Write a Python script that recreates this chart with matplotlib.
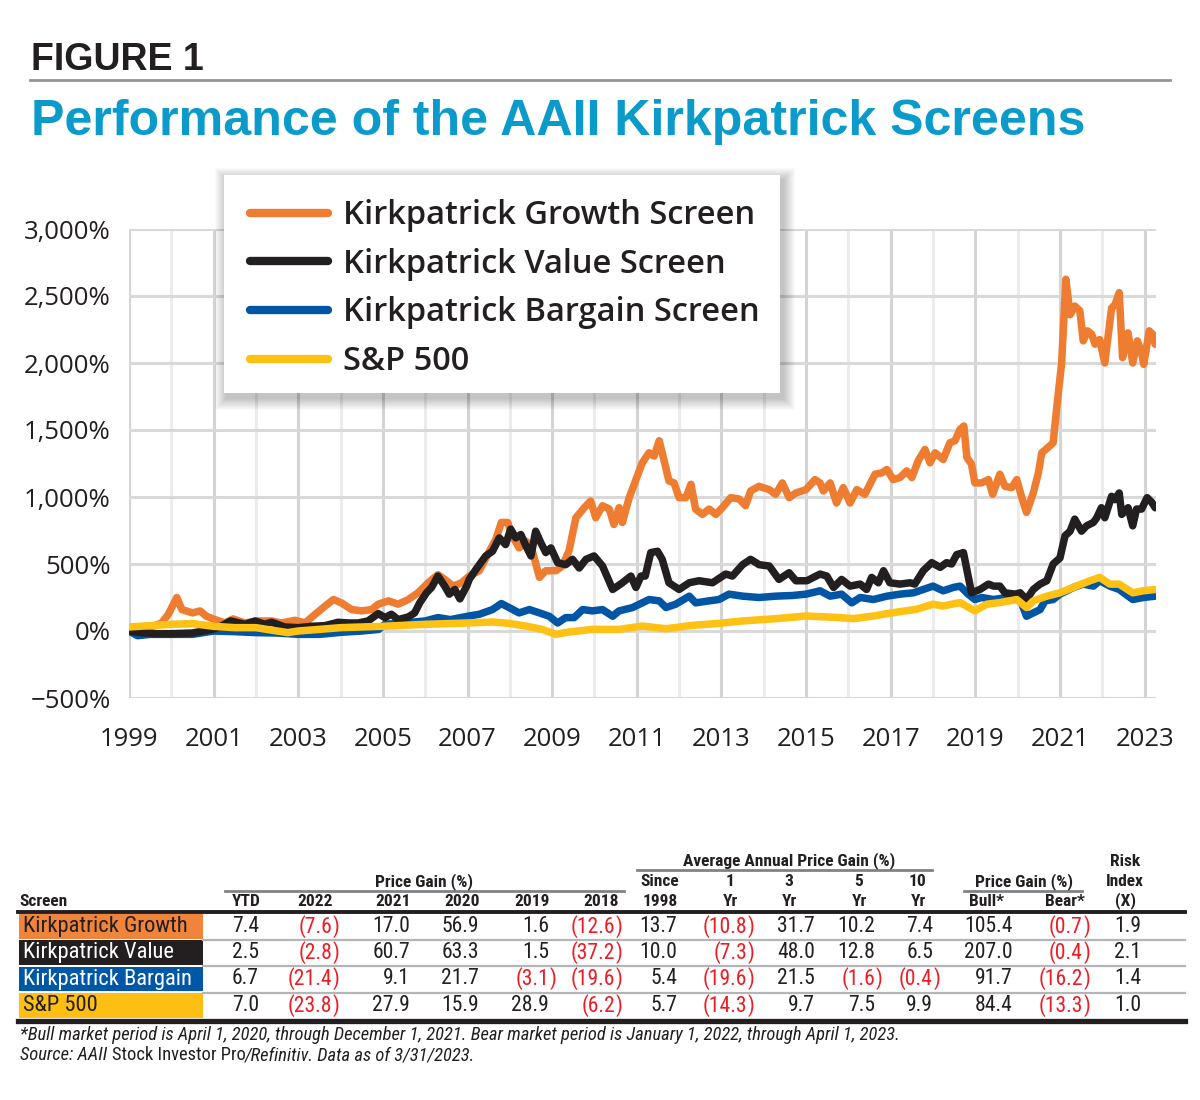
import matplotlib
matplotlib.use('Agg')
import matplotlib.pyplot as plt
from matplotlib.patches import Rectangle
from matplotlib.lines import Line2D
import matplotlib.ticker as mticker
from matplotlib import font_manager as fm

# ---------------- data ----------------
growth = [(1999.0, 0), (1999.4, 15), (1999.77, 60), (1999.93, 125), (2000.13, 250), (2000.25, 160),
          (2000.5, 135), (2000.68, 150), (2000.83, 110), (2001.03, 85), (2001.27, 60), (2001.46, 90),
          (2001.74, 60), (2002.05, 75), (2002.37, 75), (2002.6, 60), (2002.92, 80), (2003.16, 60),
          (2003.4, 125), (2003.63, 185), (2003.83, 235), (2004.02, 210), (2004.26, 160), (2004.5, 150),
          (2004.73, 160), (2004.89, 200), (2005.13, 225), (2005.36, 200), (2005.6, 235), (2005.83, 285),
          (2006.07, 360), (2006.3, 420), (2006.46, 385), (2006.66, 335), (2006.86, 360), (2007.04, 410),
          (2007.28, 450), (2007.5, 585), (2007.67, 685), (2007.8, 810), (2007.95, 810), (2008.06, 710),
          (2008.22, 620), (2008.38, 670), (2008.5, 635), (2008.7, 400), (2008.85, 450), (2009.09, 450),
          (2009.24, 485), (2009.4, 600), (2009.56, 845), (2009.76, 920), (2009.91, 970), (2010.03, 845),
          (2010.19, 935), (2010.35, 910), (2010.46, 795), (2010.58, 920), (2010.66, 810), (2010.82, 995),
          (2010.98, 1130), (2011.13, 1255), (2011.29, 1330), (2011.41, 1305), (2011.53, 1420),
          (2011.62, 1305), (2011.76, 1120), (2011.88, 1105), (2012.0, 995), (2012.16, 995),
          (2012.28, 1095), (2012.39, 910), (2012.55, 870), (2012.71, 910), (2012.87, 870), (2013.02, 920),
          (2013.22, 995), (2013.42, 985), (2013.57, 935), (2013.69, 1045), (2013.89, 1080),
          (2014.13, 1055), (2014.28, 1020), (2014.44, 1105), (2014.6, 995), (2014.76, 1030),
          (2015.0, 1055), (2015.21, 1130), (2015.33, 1105), (2015.41, 1045), (2015.57, 1105),
          (2015.72, 955), (2015.88, 1070), (2016.04, 955), (2016.2, 1055), (2016.39, 1020),
          (2016.63, 1170), (2016.79, 1180), (2016.91, 1205), (2017.06, 1130), (2017.22, 1145),
          (2017.38, 1195), (2017.5, 1145), (2017.65, 1270), (2017.81, 1355), (2017.93, 1255),
          (2018.05, 1330), (2018.24, 1280), (2018.4, 1405), (2018.52, 1420), (2018.64, 1505),
          (2018.73, 1530), (2018.8, 1295), (2018.91, 1245), (2018.99, 1105), (2019.15, 1105),
          (2019.31, 1130), (2019.41, 1020), (2019.58, 1170), (2019.7, 1080), (2019.86, 1070),
          (2019.98, 1130), (2020.09, 1005), (2020.21, 885), (2020.37, 1030), (2020.49, 1180),
          (2020.57, 1330), (2020.72, 1370), (2020.84, 1405), (2020.92, 1655), (2021.04, 2000),
          (2021.14, 2625), (2021.24, 2360), (2021.35, 2425), (2021.47, 2390), (2021.55, 2165),
          (2021.65, 2240), (2021.75, 2215), (2021.83, 2140), (2021.94, 2175), (2022.06, 2000),
          (2022.22, 2410), (2022.3, 2435), (2022.4, 2525), (2022.48, 2040), (2022.61, 2225),
          (2022.72, 2000), (2022.83, 2165), (2022.93, 2075), (2022.98, 1990), (2023.11, 2240),
          (2023.19, 2215), (2023.25, 2140)]

value = [(1999.0, 0), (1999.2, -10), (1999.6, -20), (2000.0, -20), (2000.5, -15), (2001.0, 15),
         (2001.2, 40), (2001.4, 75), (2001.74, 50), (2001.98, 75), (2002.2, 50), (2002.37, 65),
         (2002.68, 30), (2003.0, 25), (2003.3, 35), (2003.63, 40), (2003.94, 65), (2004.18, 60),
         (2004.42, 60), (2004.65, 75), (2004.89, 130), (2005.05, 100), (2005.2, 125), (2005.36, 85),
         (2005.6, 105), (2005.75, 135), (2005.87, 210), (2006.03, 285), (2006.15, 325), (2006.3, 410),
         (2006.46, 335), (2006.57, 275), (2006.7, 310), (2006.82, 240), (2006.98, 335), (2007.04, 385),
         (2007.2, 460), (2007.43, 560), (2007.59, 595), (2007.75, 695), (2007.9, 645), (2008.02, 760),
         (2008.14, 695), (2008.26, 720), (2008.38, 635), (2008.5, 560), (2008.61, 745), (2008.73, 660),
         (2008.85, 585), (2008.97, 620), (2009.13, 510), (2009.32, 495), (2009.48, 535), (2009.64, 470),
         (2009.8, 535), (2009.99, 560), (2010.19, 485), (2010.43, 310), (2010.66, 360), (2010.86, 410),
         (2010.98, 325), (2011.1, 410), (2011.2, 410), (2011.33, 585), (2011.49, 595), (2011.6, 535),
         (2011.76, 360), (2012.0, 310), (2012.24, 360), (2012.47, 375), (2012.79, 360), (2013.1, 425),
         (2013.26, 410), (2013.5, 495), (2013.69, 535), (2013.89, 495), (2014.13, 485), (2014.36, 385),
         (2014.6, 435), (2014.76, 375), (2015.02, 375), (2015.33, 425), (2015.49, 410), (2015.65, 325),
         (2015.84, 385), (2016.04, 335), (2016.28, 350), (2016.43, 310), (2016.55, 400), (2016.71, 360),
         (2016.83, 450), (2016.98, 360), (2017.22, 350), (2017.46, 360), (2017.57, 350), (2017.77, 450),
         (2017.97, 510), (2018.17, 475), (2018.32, 510), (2018.44, 500), (2018.56, 570), (2018.72, 585),
         (2018.8, 460), (2018.91, 285), (2019.11, 310), (2019.31, 350), (2019.43, 335), (2019.58, 335),
         (2019.7, 285), (2019.94, 275), (2020.06, 285), (2020.21, 235), (2020.37, 310), (2020.53, 350),
         (2020.69, 375), (2020.84, 500), (2021.0, 545), (2021.12, 710), (2021.24, 745), (2021.35, 835),
         (2021.51, 745), (2021.63, 785), (2021.79, 810), (2021.87, 845), (2021.98, 920), (2022.06, 845),
         (2022.22, 1005), (2022.3, 980), (2022.4, 1030), (2022.46, 870), (2022.61, 920), (2022.72, 785),
         (2022.81, 910), (2022.93, 910), (2023.06, 995), (2023.17, 960), (2023.25, 920)]

bargain = [(1999.0, 0), (1999.2, -35), (1999.5, -25), (2000.0, -25), (2000.5, -25), (2001.0, 0),
           (2001.5, -5), (2002.0, -12), (2002.5, -15), (2003.0, -25), (2003.5, -25), (2004.0, -10),
           (2004.5, 0), (2004.9, 12), (2005.05, 50), (2005.5, 60), (2006.0, 75), (2006.3, 100),
           (2006.6, 85), (2007.0, 110), (2007.28, 125), (2007.59, 160), (2007.8, 205), (2007.98, 175),
           (2008.22, 135), (2008.46, 160), (2008.7, 135), (2008.93, 110), (2009.13, 60), (2009.32, 100),
           (2009.52, 100), (2009.72, 160), (2009.95, 150), (2010.19, 160), (2010.43, 110), (2010.58, 150),
           (2010.9, 175), (2011.13, 210), (2011.29, 235), (2011.53, 225), (2011.69, 175), (2011.92, 200),
           (2012.24, 260), (2012.39, 210), (2012.71, 225), (2012.94, 235), (2013.18, 275), (2013.5, 260),
           (2013.89, 250), (2014.28, 260), (2014.68, 265), (2015.0, 275), (2015.33, 300), (2015.57, 260),
           (2015.84, 275), (2016.08, 210), (2016.28, 250), (2016.59, 235), (2016.91, 260), (2017.22, 275),
           (2017.54, 285), (2017.77, 310), (2018.0, 335), (2018.24, 300), (2018.48, 325), (2018.64, 335),
           (2018.83, 275), (2018.99, 235), (2019.15, 250), (2019.43, 235), (2019.74, 250), (2020.06, 235),
           (2020.21, 110), (2020.37, 135), (2020.53, 160), (2020.65, 225), (2020.84, 235), (2021.0, 275),
           (2021.32, 325), (2021.55, 350), (2021.79, 335), (2021.94, 375), (2022.18, 335), (2022.4, 310),
           (2022.72, 235), (2022.97, 250), (2023.25, 260)]

sp500 = [(1999.0, 30), (1999.5, 40), (2000.0, 50), (2000.5, 55), (2001.0, 35), (2001.5, 25),
         (2002.0, 25), (2002.5, 0), (2002.75, -12), (2003.0, 0), (2003.5, 12), (2004.0, 25),
         (2005.0, 35), (2006.0, 50), (2007.0, 60), (2007.59, 67), (2007.98, 57), (2008.38, 37),
         (2008.77, 12), (2009.09, -25), (2009.4, -7), (2009.95, 12), (2010.58, 12), (2011.13, 37),
         (2011.69, 17), (2012.31, 42), (2012.94, 57), (2013.5, 75), (2014.28, 92), (2015.0, 112),
         (2015.8, 100), (2016.12, 92), (2016.59, 112), (2017.06, 137), (2017.61, 162), (2018.0, 200),
         (2018.24, 187), (2018.64, 212), (2018.99, 150), (2019.27, 200), (2019.58, 212), (2019.98, 235),
         (2020.21, 175), (2020.37, 225), (2020.69, 260), (2021.0, 285), (2021.39, 335), (2021.71, 375),
         (2021.94, 400), (2022.18, 350), (2022.4, 350), (2022.72, 285), (2022.97, 300), (2023.25, 310)]

series_names = ['Kirkpatrick Growth Screen', 'Kirkpatrick Value Screen',
                'Kirkpatrick Bargain Screen', 'S&P 500']

x_ticks = list(range(1999, 2024, 2))
y_ticks = list(range(-500, 3001, 500))

# table data
row_labels = ['Kirkpatrick Growth', 'Kirkpatrick Value', 'Kirkpatrick Bargain', 'S&P 500']
ytd = [7.4, 2.5, 6.7, 7.0]
y2022 = [-7.6, -2.8, -21.4, -23.8]
y2021 = [17.0, 60.7, 9.1, 27.9]
y2020 = [56.9, 63.3, 21.7, 15.9]
y2019 = [1.6, 1.5, -3.1, 28.9]
y2018 = [-12.6, -37.2, -19.6, -6.2]
since1998 = [13.7, 10.0, 5.4, 5.7]
yr1 = [-10.8, -7.3, -19.6, -14.3]
yr3 = [31.7, 48.0, 21.5, 9.7]
yr5 = [10.2, 12.8, -1.6, 7.5]
yr10 = [7.4, 6.5, -0.4, 9.9]
bull = [105.4, 207.0, 91.7, 84.4]
bear = [-0.7, -0.4, -16.2, -13.3]
risk = [1.9, 2.1, 1.4, 1.0]

# ---------------- fonts ----------------
fam_names = {f.name for f in fm.fontManager.ttflist}
NARROW_FAM, NSCALE = ['Liberation Sans', 'DejaVu Sans'], 0.86
for cand in ['Roboto Condensed', 'Liberation Sans Narrow', 'Archivo Narrow', 'Open Sans Condensed']:
    if cand in fam_names:
        NARROW_FAM, NSCALE = [cand, 'DejaVu Sans'], 1.0
        break

W, H = 1200, 1100
fig = plt.figure(figsize=(12, 11), dpi=100)
fig.patch.set_facecolor('white')


def fx(px):
    return px / W


def fy(py):
    return 1 - py / H


ARIAL = ['Liberation Sans', 'DejaVu Sans']
SANS = ['Open Sans', 'DejaVu Sans']
DARK = '#231f20'
RED = '#ee1c25'
line_colors = ['#ee7d31', '#231f20', '#0055a5', '#ffc114']
cell_colors = ['#f0843a', '#231f20', '#0057a6', '#fdbf14']
cell_text = [DARK, 'white', 'white', DARK]

# header
fig.text(fx(31), fy(70), 'FIGURE 1', family=ARIAL, weight='bold', fontsize=27,
         color=DARK, va='baseline', ha='left')
fig.add_artist(Line2D([fx(30), fx(1170)], [fy(79.5), fy(79.5)], color='#939598', lw=2))
fig.text(fx(31), fy(135), 'Performance of the AAII Kirkpatrick Screens', family=ARIAL,
         weight='bold', fontsize=36.1, color='#0b9bcb', va='baseline', ha='left')

# chart
ax = fig.add_axes([fx(129), fy(698), (1156 - 129) / W, (698 - 229) / H])
ax.set_xlim(1999, 2023.27)
ax.set_ylim(-500, 3000)
for yr in range(1999, 2024):
    ax.axvline(yr, color='#d4d4d4' if yr % 2 == 1 else '#ececec', lw=2.2, zorder=0)
for v in y_ticks:
    ax.axhline(v, color='#d9d9d9', lw=2.2, zorder=0)
for s in ax.spines.values():
    s.set_visible(False)

order = [1, 3, 2, 4]
for data, col, name, z in zip([growth, value, bargain, sp500], line_colors, series_names, order):
    xs = [p[0] for p in data]
    ys = [p[1] for p in data]
    ax.plot(xs, ys, color=col, lw=5.4, solid_joinstyle='round', solid_capstyle='round',
            zorder=2 + z, label=name)

ax.set_xticks(x_ticks)
ax.set_yticks(y_ticks)
ax.yaxis.set_major_formatter(mticker.FuncFormatter(
    lambda v, p: ('\u2212' if v < 0 else '') + f'{abs(int(v)):,}%'))
ax.tick_params(length=0, labelsize=18.5, labelcolor=DARK)
ax.tick_params(axis='y', pad=13)
ax.tick_params(axis='x', pad=21)
for lab in ax.get_xticklabels() + ax.get_yticklabels():
    lab.set_family(SANS)

# legend box with soft shadow
bx0, by0, bx1, by1 = 224, 175, 780, 393
for i in range(12, 0, -1):
    fig.add_artist(Rectangle((fx(bx0 + 3 - i), fy(by1 + 5 + i)),
                             (bx1 - bx0 + 2 * i) / W, (by1 - by0 + 2 * i) / H,
                             transform=fig.transFigure, facecolor='black', edgecolor='none',
                             alpha=0.018, zorder=2))
fig.add_artist(Rectangle((fx(bx0), fy(by1)), (bx1 - bx0) / W, (by1 - by0) / H,
                         transform=fig.transFigure, facecolor='white', edgecolor='none', zorder=3))
handles = [Line2D([], [], color=c, lw=6, solid_capstyle='round') for c in line_colors]
leg = fig.legend(handles, series_names, loc='center left', bbox_to_anchor=(fx(250), fy(288.5)),
                 frameon=False, prop=dict(family=SANS, weight='semibold', size=23.5),
                 handlelength=2.4, handletextpad=0.45, labelspacing=0.48, borderpad=0,
                 borderaxespad=0)
leg.set_zorder(5)
for t in leg.get_texts():
    t.set_color(DARK)

# ---------------- table ----------------
HDR = dict(family=NARROW_FAM, weight='bold', fontsize=12.5 * NSCALE, color=DARK)
fig.text(fx(789), fy(861), 'Average Annual Price Gain (%)', ha='center', va='center', **HDR)
fig.text(fx(1125), fy(861), 'Risk', ha='center', va='center', **HDR)
fig.text(fx(424), fy(882), 'Price Gain (%)', ha='center', va='center', **HDR)
fig.text(fx(1024), fy(882), 'Price Gain (%)', ha='center', va='center', **HDR)
fig.text(fx(1125), fy(882), 'Index', ha='center', va='center', **HDR)
fig.text(fx(19), fy(901), 'Screen', ha='left', va='center', **HDR)
for x0, x1, y in [(637, 932, 869.5), (225, 624, 890.5), (964, 1082, 890.5)]:
    fig.add_artist(Line2D([fx(x0), fx(x1)], [fy(y), fy(y)], color='#808285', lw=2))

col_heads = [('YTD', ''), ('2022', ''), ('2021', ''), ('2020', ''), ('2019', ''), ('2018', ''),
             ('Since', '1998'), ('1', 'Yr'), ('3', 'Yr'), ('5', 'Yr'), ('10', 'Yr'),
             ('Bull*', ''), ('Bear*', ''), ('(X)', '')]
head_x = [246, 315, 393, 462, 532, 601, 660, 730, 789, 859, 918, 987, 1065, 1125]
for (a, b), hx in zip(col_heads, head_x):
    if b:
        fig.text(fx(hx), fy(882), a, ha='center', va='center', **HDR)
        fig.text(fx(hx), fy(901), b, ha='center', va='center', **HDR)
    else:
        fig.text(fx(hx), fy(901), a, ha='center', va='center', **HDR)

fig.add_artist(Line2D([fx(18), fx(1185)], [fy(911.5), fy(911.5)], color=DARK, lw=2.8))
fig.add_artist(Line2D([fx(18), fx(1185)], [fy(1021), fy(1021)], color=DARK, lw=3.8))
for yy in [939.5, 966, 992.5]:
    fig.add_artist(Line2D([fx(203), fx(1185)], [fy(yy), fy(yy)], color='#b5b5b5', lw=1.6))

row_y = [926.5, 952.5, 979, 1005.5]
columns = [ytd, y2022, y2021, y2020, y2019, y2018, since1998, yr1, yr3, yr5, yr10, bull, bear, risk]
col_right = [259, 332, 410, 479, 549, 615, 677, 747, 815, 875, 933, 1013, 1083, 1141]
VAL = dict(family=NARROW_FAM, fontsize=15.6 * NSCALE, va='center')
for i, (lab, ry) in enumerate(zip(row_labels, row_y)):
    fig.add_artist(Rectangle((fx(19), fy(ry + 12.3)), (203 - 19) / W, 24.6 / H,
                             transform=fig.transFigure, facecolor=cell_colors[i],
                             edgecolor='none'))
    fig.text(fx(23), fy(ry), lab, ha='left', color=cell_text[i], family=NARROW_FAM,
             fontsize=16.2 * NSCALE, va='center')
    for col, cx in zip(columns, col_right):
        v = col[i]
        if v < 0:
            fig.text(fx(cx), fy(ry), f'({abs(v):.1f}', ha='right', color=RED, **VAL)
            fig.text(fx(cx), fy(ry), ')', ha='left', color=RED, **VAL)
        else:
            fig.text(fx(cx), fy(ry), f'{v:.1f}', ha='right', color=DARK, **VAL)

FOOT = dict(family=NARROW_FAM, fontsize=13.3 * NSCALE, color=DARK, va='center')
fig.text(fx(20), fy(1035), '*Bull market period is April 1, 2020, through December 1, 2021. '
         'Bear market period is January 1, 2022, through April 1, 2023.', style='italic',
         ha='left', **FOOT)
renderer = fig.canvas.get_renderer()
xpos = 20
for s, st in [('Source: AAII ', 'italic'), ('Stock Investor Pro', 'normal'),
              ('/Refinitiv. Data as of 3/31/2023.', 'italic')]:
    t = fig.text(fx(xpos), fy(1055), s, style=st, ha='left', **FOOT)
    bb = t.get_window_extent(renderer=renderer)
    xpos = bb.x1

fig.savefig('out.png', dpi=100)
